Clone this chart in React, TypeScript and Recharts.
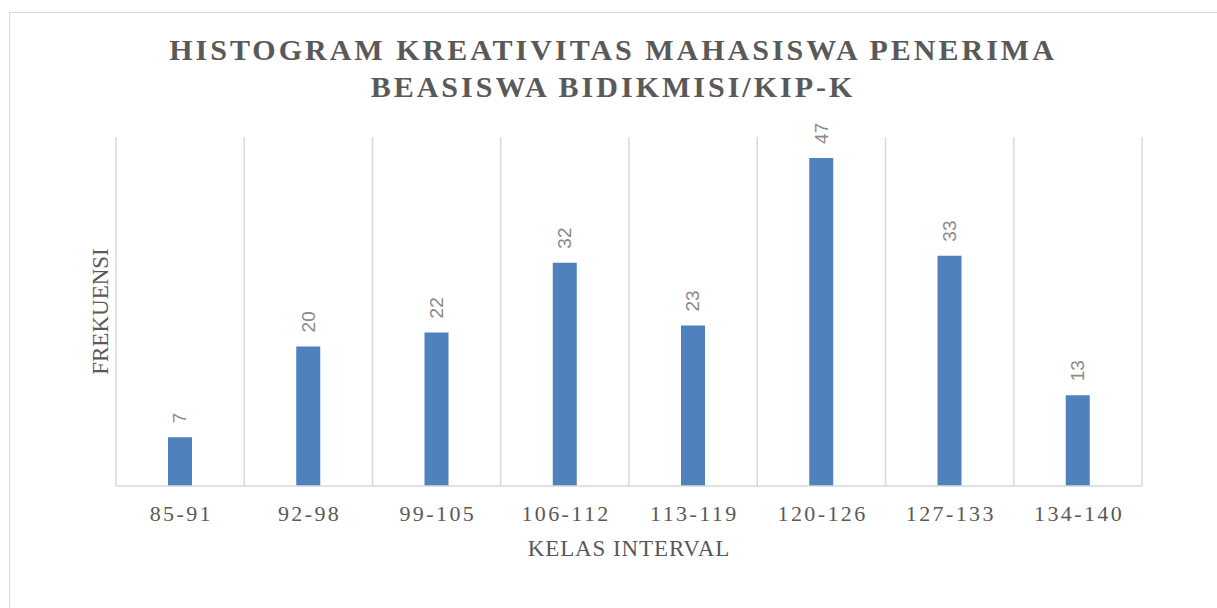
import { BarChart, Bar, XAxis, YAxis, CartesianGrid, LabelList, Label } from "recharts";

const categories = ["85-91", "92-98", "99-105", "106-112", "113-119", "120-126", "127-133", "134-140"];
const frequencies = [7, 20, 22, 32, 23, 47, 33, 13];

const data = categories.map((kelas, i) => ({ kelas, frekuensi: frequencies[i] }));

const GRAY = "#595959";
const GRID = "#d9d9d9";
const SERIF = "'Liberation Serif', 'Times New Roman', serif";

const BarValue = (props: any) => {
  const { x, y, width, value } = props;
  const cx = x + width / 2;
  const cy = y - 14;
  return (
    <text
      x={cx}
      y={cy}
      transform={`rotate(-90, ${cx}, ${cy})`}
      textAnchor="start"
      dominantBaseline="central"
      fontFamily="'Liberation Sans', Arial, sans-serif"
      fontSize={19}
      fill="#8a8a8a"
    >
      {value}
    </text>
  );
};

const XTick = (props: any) => {
  const { x, y, payload } = props;
  return (
    <text x={x + 1.2} y={y + 35} textAnchor="middle" fontFamily={SERIF} fontSize={22} letterSpacing={2.4} fill={GRAY}>
      {payload.value}
    </text>
  );
};

export default function App() {
  return (
    <div style={{ position: "absolute", left: 0, top: 0, width: 1217, height: 608, overflow: "hidden", background: "#fff" }}>
      <div
        style={{
          position: "absolute",
          left: 9,
          top: 12,
          width: 1260,
          height: 660,
          border: `1.5px solid ${GRID}`,
        }}
      />
      <div
        style={{
          position: "absolute",
          left: 0,
          top: 31,
          width: 1226,
          textAlign: "center",
          fontFamily: SERIF,
          fontWeight: "bold",
          fontSize: 30,
          lineHeight: "37px",
          letterSpacing: 3,
          color: GRAY,
        }}
      >
        HISTOGRAM KREATIVITAS MAHASISWA PENERIMA
        <br />
        BEASISWA BIDIKMISI/KIP-K
      </div>
      <div style={{ position: "absolute", left: 0, top: 0 }}>
        <BarChart width={1217} height={608} data={data} margin={{ top: 137, right: 75, bottom: 92, left: 56 }}>
          <CartesianGrid
            horizontal={false}
            stroke={GRID}
            strokeWidth={1.5}
            verticalCoordinatesGenerator={({ offset }: any) =>
              Array.from({ length: categories.length + 1 }, (_, i) => offset.left + (i * offset.width) / categories.length)
            }
          />
          <XAxis
            dataKey="kelas"
            stroke={GRID}
            strokeWidth={1.5}
            tickLine={false}
            tickSize={0}
            tickMargin={0}
            tick={<XTick />}
            interval={0}
            height={30}
          >
            <Label
              content={({ viewBox }: any) => (
                <text
                  x={viewBox.x + viewBox.width / 2}
                  y={viewBox.y + 70}
                  textAnchor="middle"
                  fontFamily={SERIF}
                  fontSize={23}
                  letterSpacing={0.9}
                  fill={GRAY}
                >
                  KELAS INTERVAL
                </text>
              )}
            />
          </XAxis>
          <YAxis domain={[0, 50]} width={60} tick={false} axisLine={false} tickLine={false}>
            <Label
              content={({ viewBox }: any) => {
                const cx = viewBox.x + 44;
                const cy = viewBox.y + viewBox.height / 2;
                return (
                  <text
                    x={cx}
                    y={cy}
                    transform={`rotate(-90, ${cx}, ${cy})`}
                    textAnchor="middle"
                    dominantBaseline="central"
                    fontFamily={SERIF}
                    fontSize={23}
                    fill={GRAY}
                  >
                    FREKUENSI
                  </text>
                );
              }}
            />
          </YAxis>
          <Bar dataKey="frekuensi" fill="#4f81bd" barSize={24} isAnimationActive={false}>
            <LabelList dataKey="frekuensi" content={<BarValue />} />
          </Bar>
        </BarChart>
      </div>
    </div>
  );
}
